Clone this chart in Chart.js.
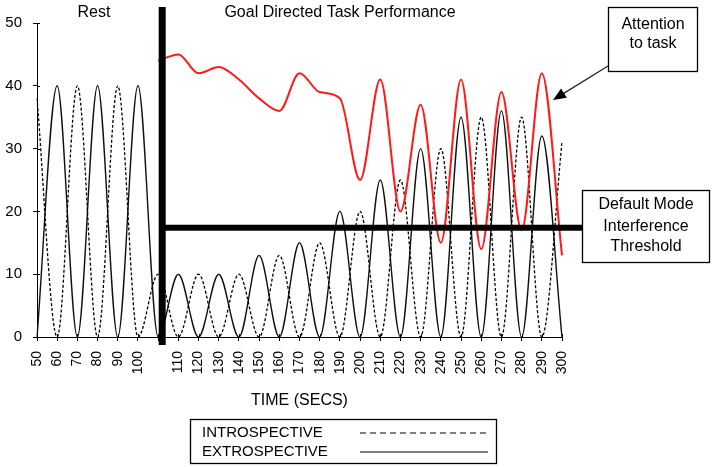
<!DOCTYPE html>
<html>
<head>
<meta charset="utf-8">
<title>Attention to task vs default mode</title>
<script src="https://cdn.jsdelivr.net/npm/chart.js@4.4.1/dist/chart.umd.min.js"></script>
<style>
  html, body { margin: 0; padding: 0; background: #fff; }
  #wrap { width: 713px; height: 467px; }
</style>
</head>
<body>
<div id="wrap"><canvas id="chart" width="713" height="467"></canvas></div>
<script>
// x categories: 10 s steps, one unlabeled step where the task starts
const TIME_LABELS = ['50', '60', '70', '80', '90', '100', '', '110', '120', '130', '140', '150', '160', '170',
  '180', '190', '200', '210', '220', '230', '240', '250', '260', '270', '280', '290', '300'];

const INTROSPECTIVE = [38, 0, 40, 0, 40, 0, 10, 0, 10, 0, 10, 0, 13, 0, 15, 0, 20, 0, 25, 0, 30, 0, 35, 0, 35, 0, 31];
const EXTROSPECTIVE = [0, 40, 0, 40, 0, 40, 0, 10, 0, 10, 0, 13, 0, 15, 0, 20, 0, 25, 0, 30, 0, 35, 0, 36, 0, 32, 0];
const ATTENTION = [null, null, null, null, null, null, 44, 45, 42, 43, 41, 38, 36, 42, 39, 38, 25, 41, 20, 37, 15, 41, 14, 39, 17, 42, 13];

const Y_MIN = 0;
const Y_MAX = 50;
const Y_STEP = 10;

const THRESHOLD = 17.4;   // default mode interference threshold
const TASK_START = 6.2;   // category index of the task onset marker

const FONT = '"Liberation Sans", Arial, Helvetica, sans-serif';

// boxes / labels drawn around the plot (pixel layout)
const NOTE_ATTENTION = { x: 608, y: 7, w: 89, h: 64, lines: ['Attention', 'to task'], lineY: [25, 44] };
const NOTE_THRESHOLD = { x: 582, y: 190, w: 127, h: 72, lines: ['Default Mode', 'Interference', 'Threshold'], lineY: [205, 227, 247] };
const ARROW = { from: [608, 66], to: [553, 100] };

const overlayPlugin = {
  id: 'overlay',
  afterDatasetsDraw(chart) {
    const { ctx, chartArea, scales: { x, y } } = chart;
    ctx.save();
    ctx.fillStyle = '#000';
    const xs = x.getPixelForValue(TASK_START);
    const yt = y.getPixelForValue(THRESHOLD);
    // threshold bar
    ctx.fillRect(xs, yt - 3, NOTE_THRESHOLD.x - xs, 6);
    // task onset bar
    const top = y.getPixelForValue(Y_MAX) - 16;
    ctx.fillRect(xs - 3.5, top, 7, chartArea.bottom + 8 - top);
    ctx.restore();
  },
  afterDraw(chart) {
    const { ctx, chartArea, scales: { x, y } } = chart;
    ctx.save();

    // inner half of the crossing tick marks
    ctx.strokeStyle = '#000';
    ctx.lineWidth = 1;
    ctx.beginPath();
    y.ticks.forEach((t, i) => {
      const py = Math.round(y.getPixelForTick(i)) + 0.5;
      ctx.moveTo(chartArea.left, py);
      ctx.lineTo(chartArea.left + 3, py);
    });
    x.ticks.forEach((t, i) => {
      const px = Math.round(x.getPixelForTick(i)) + 0.5;
      ctx.moveTo(px, chartArea.bottom);
      ctx.lineTo(px, chartArea.bottom - 3);
    });
    ctx.stroke();

    // section titles
    ctx.fillStyle = '#000';
    ctx.font = '16px ' + FONT;
    ctx.textAlign = 'center';
    ctx.textBaseline = 'middle';
    ctx.fillText('Rest', 94, 13);
    ctx.fillText('Goal Directed Task Performance', 340, 13);

    // note boxes
    [NOTE_ATTENTION, NOTE_THRESHOLD].forEach(n => {
      ctx.fillStyle = '#fff';
      ctx.fillRect(n.x, n.y, n.w, n.h);
      ctx.strokeStyle = '#000';
      ctx.lineWidth = 1.3;
      ctx.strokeRect(n.x + 0.5, n.y + 0.5, n.w, n.h);
      ctx.fillStyle = '#000';
      n.lines.forEach((s, i) => ctx.fillText(s, n.x + n.w / 2 + 0.5, n.lineY[i]));
    });

    // arrow
    const [x1, y1] = ARROW.from;
    const [x2, y2] = ARROW.to;
    const ang = Math.atan2(y2 - y1, x2 - x1);
    const head = 14;
    ctx.strokeStyle = '#222';
    ctx.lineWidth = 1.3;
    ctx.beginPath();
    ctx.moveTo(x1, y1);
    ctx.lineTo(x2 - Math.cos(ang) * head * 0.8, y2 - Math.sin(ang) * head * 0.8);
    ctx.stroke();
    ctx.fillStyle = '#000';
    ctx.beginPath();
    ctx.moveTo(x2, y2);
    ctx.lineTo(x2 - head * Math.cos(ang - 0.4), y2 - head * Math.sin(ang - 0.4));
    ctx.lineTo(x2 - head * Math.cos(ang + 0.4), y2 - head * Math.sin(ang + 0.4));
    ctx.closePath();
    ctx.fill();

    // legend box
    const lx = 190, ly = 419, lw = 306, lh = 44;
    ctx.strokeStyle = '#000';
    ctx.lineWidth = 1.3;
    ctx.strokeRect(lx + 0.5, ly + 0.5, lw, lh);
    ctx.font = '15px ' + FONT;
    ctx.textAlign = 'left';
    const rows = [
      { label: chart.data.datasets[1].label, dash: [6, 4], y: 433 },
      { label: chart.data.datasets[2].label, dash: [], y: 452 },
    ];
    rows.forEach(r => {
      ctx.fillStyle = '#000';
      ctx.fillText(r.label, 202, r.y);
      ctx.beginPath();
      ctx.setLineDash(r.dash);
      ctx.lineWidth = 1.2;
      ctx.moveTo(360, r.y);
      ctx.lineTo(488, r.y);
      ctx.stroke();
    });
    ctx.setLineDash([]);
    ctx.restore();
  }
};

const ctx = document.getElementById('chart').getContext('2d');
new Chart(ctx, {
  type: 'line',
  data: {
    labels: TIME_LABELS,
    datasets: [
      {
        label: 'Attention to task',
        data: ATTENTION,
        borderColor: '#ff1a1a',
        borderWidth: 2,
        pointRadius: 0,
        cubicInterpolationMode: 'monotone',
        fill: false,
      },
      {
        label: 'INTROSPECTIVE',
        data: INTROSPECTIVE,
        borderColor: '#000',
        borderWidth: 1.3,
        borderDash: [3, 2],
        pointRadius: 0,
        cubicInterpolationMode: 'monotone',
        fill: false,
      },
      {
        label: 'EXTROSPECTIVE',
        data: EXTROSPECTIVE,
        borderColor: '#111',
        borderWidth: 1.4,
        pointRadius: 0,
        cubicInterpolationMode: 'monotone',
        fill: false,
      },
    ],
  },
  options: {
    responsive: false,
    animation: false,
    events: [],
    layout: { padding: { left: 0, top: 23, right: 151, bottom: 0 } },
    plugins: {
      legend: { display: false },
      tooltip: { enabled: false },
    },
    scales: {
      x: {
        type: 'category',
        offset: false,
        afterFit: (s) => { s.height = 130; },
        border: { display: true, color: '#000', width: 1 },
        grid: { drawOnChartArea: false, drawTicks: true, tickLength: 4, color: '#000' },
        ticks: {
          autoSkip: false,
          minRotation: 90,
          maxRotation: 90,
          padding: 10,
          color: '#000',
          font: { family: FONT, size: 14 },
        },
        title: {
          display: true,
          text: 'TIME (SECS)',
          color: '#000',
          font: { family: FONT, size: 16 },
          padding: { top: 0, bottom: 57 },
        },
      },
      y: {
        min: Y_MIN,
        max: Y_MAX,
        afterFit: (s) => { s.width = 37; },
        border: { display: true, color: '#000', width: 1 },
        grid: { drawOnChartArea: false, drawTicks: true, tickLength: 4, color: '#000' },
        ticks: {
          stepSize: Y_STEP,
          padding: 11,
          color: '#000',
          font: { family: FONT, size: 15 },
        },
      },
    },
  },
  plugins: [overlayPlugin],
});
</script>
</body>
</html>
